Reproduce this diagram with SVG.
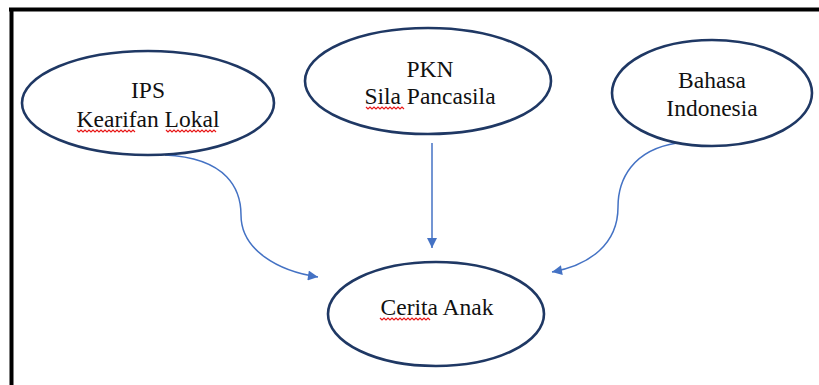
<svg xmlns="http://www.w3.org/2000/svg" width="819" height="385" viewBox="0 0 819 385">
<defs>
<style>
.node ellipse{fill:#fff;stroke:#1F3864;stroke-width:2.6}
.conn path{fill:none;stroke:#4472C4;stroke-width:1.5}
.sq{fill:none;stroke:#E81818;stroke-width:1.2}
</style>
<marker id="arr" viewBox="0 0 10 10" refX="10" refY="5" markerWidth="11" markerHeight="10" markerUnits="userSpaceOnUse" orient="auto">
<path d="M0,0 L10,5 L0,10 Z" fill="#4472C4"/>
</marker>
</defs>
<rect x="0" y="0" width="819" height="385" fill="#fff"/>
<g id="frame">
<line x1="9" y1="9.5" x2="819" y2="9.5" stroke="#000" stroke-width="4"/>
<line x1="11.5" y1="8" x2="11.5" y2="385" stroke="#000" stroke-width="4"/>
</g>
<g id="connectors" class="conn">
<path d="M165,155 C228,158 241,190 241,215 C241,250 278,271 318,277" marker-end="url(#arr)"/>
<path d="M432,143 L432,248" marker-end="url(#arr)"/>
<path d="M677,143 C632,150 618,180 618,207 C618,244 590,265 552,272" marker-end="url(#arr)"/>
</g>
<g font-family="'Liberation Serif', 'DejaVu Serif', serif" font-size="23.5" fill="#111" text-anchor="middle">
<g id="ips" class="node">
<ellipse cx="148" cy="103" rx="126" ry="52"/>
<text x="148" y="98">IPS</text>
<text x="148" y="127">Kearifan Lokal</text>
<path class="sq" d="M77,130 l2,2 l2,-2 l2,2 l2,-2 l2,2 l2,-2 l2,2 l2,-2 l2,2 l2,-2 l2,2 l2,-2 l2,2 l2,-2 l2,2 l2,-2 l2,2 l2,-2 l2,2 l2,-2 l2,2 l2,-2 l2,2 l2,-2 l2,2 l2,-2 l2,2 l2,-2 l2,2"/>
<path class="sq" d="M166,130 l2,2 l2,-2 l2,2 l2,-2 l2,2 l2,-2 l2,2 l2,-2 l2,2 l2,-2 l2,2 l2,-2 l2,2 l2,-2 l2,2 l2,-2 l2,2 l2,-2 l2,2 l2,-2 l2,2 l2,-2 l2,2 l2,-2 l2,2"/>
</g>
<g id="pkn" class="node">
<ellipse cx="428" cy="81" rx="123" ry="53"/>
<text x="430" y="77">PKN</text>
<text x="430" y="104">Sila Pancasila</text>
<path class="sq" d="M366,107 l2,2 l2,-2 l2,2 l2,-2 l2,2 l2,-2 l2,2 l2,-2 l2,2 l2,-2 l2,2 l2,-2 l2,2 l2,-2 l2,2 l2,-2 l2,2 l2,-2 l2,2"/>
</g>
<g id="bahasa" class="node">
<ellipse cx="712" cy="93" rx="100" ry="53"/>
<text x="712" y="88">Bahasa</text>
<text x="712" y="116">Indonesia</text>
</g>
<g id="cerita" class="node">
<ellipse cx="436" cy="314" rx="108" ry="52"/>
<text x="437" y="315">Cerita Anak</text>
<path class="sq" d="M380,318 l2,2 l2,-2 l2,2 l2,-2 l2,2 l2,-2 l2,2 l2,-2 l2,2 l2,-2 l2,2 l2,-2 l2,2 l2,-2 l2,2 l2,-2 l2,2 l2,-2 l2,2 l2,-2 l2,2 l2,-2 l2,2 l2,-2 l2,2"/>
</g>
</g>
</svg>
